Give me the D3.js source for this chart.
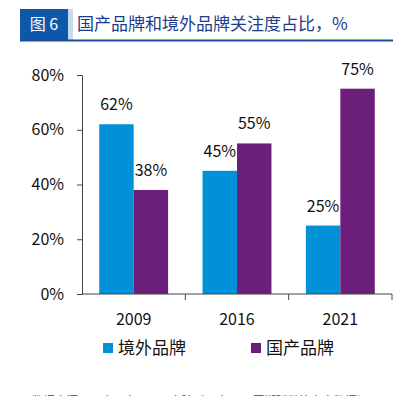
<!DOCTYPE html>
<html><head><meta charset="utf-8">
<script src="https://cdn.jsdelivr.net/npm/d3@7"></script>
<style>body{margin:0;background:#fff;}svg{display:block;font-family:"Noto Sans CJK SC","Noto Sans",sans-serif;}</style>
</head><body>
<script>
const categories = ["2009", "2016", "2021"];
const seriesNames = ["境外品牌", "国产品牌"];
const foreignBrand = [62, 45, 25];
const domesticBrand = [38, 55, 75];
const yTicks = [0, 20, 40, 60, 80];
const colors = ["#0091D9", "#6C1E7B"];
const figLabel = "图 6";
const title = "国产品牌和境外品牌关注度占比，%";
const source = "数据来源：百度，人民网研究院《百度2021国潮骄傲搜索大数据》";

const W = 395, H = 396;
const svg = d3.select("body").append("svg").attr("width", W).attr("height", H);

// header
svg.append("rect").attr("x", 20).attr("y", 9).attr("width", 48).attr("height", 31).attr("fill", "#0F57A8");
svg.append("rect").attr("x", 68).attr("y", 9).attr("width", 5).attr("height", 31).attr("fill", "#C9DBEF");
svg.append("text").attr("x", 44).attr("y", 30).attr("text-anchor", "middle").attr("fill", "#fff")
  .attr("font-size", 16).text(figLabel);
svg.append("text").attr("x", 77).attr("y", 30).attr("fill", "#1B3D8C").attr("font-size", 17).text(title);
svg.append("line").attr("x1", 20).attr("x2", 393).attr("y1", 40.5).attr("y2", 40.5)
  .attr("stroke", "#1B4C9C").attr("stroke-width", 2);

const data = categories.map((c, i) => ({cat: c, vals: [foreignBrand[i], domesticBrand[i]]}));

const x = d3.scaleBand().domain(categories).range([82, 392]).paddingInner(1/3).paddingOuter(1/6);
const xs = d3.scaleBand().domain([0, 1]).range([0, x.bandwidth()]);
const y = d3.scaleLinear().domain([0, 80]).range([294, 75]);

// bars
const g = svg.append("g");
data.forEach(d => {
  d.vals.forEach((v, j) => {
    g.append("rect").attr("x", x(d.cat) + xs(j)).attr("y", y(v))
      .attr("width", xs.bandwidth()).attr("height", y(0) - y(v)).attr("fill", colors[j]);
    g.append("text").attr("x", x(d.cat) + xs(j) + xs.bandwidth() / 2).attr("y", y(v) - 14)
      .attr("text-anchor", "middle").attr("font-size", 16).attr("fill", "#111").text(v + "%");
  });
});

// y axis
const yAxis = svg.append("g").attr("transform", "translate(82,0)")
  .call(d3.axisLeft(y).tickValues(yTicks).tickFormat(d => d + "%").tickSize(5).tickPadding(13));
yAxis.selectAll("path,line").attr("stroke", "#444");
yAxis.selectAll("text").attr("font-size", 16).attr("fill", "#111")
  .attr("font-family", '"Noto Sans CJK SC","Noto Sans",sans-serif');

// x axis
const xAxisG = svg.append("g").attr("transform", "translate(0,294)");
xAxisG.append("line").attr("x1", 82).attr("x2", 392).attr("stroke", "#444");
categories.forEach(c => {
  const edge = x(c) + x.bandwidth() + x.step() * x.paddingInner() / 2;
  xAxisG.append("line").attr("x1", edge).attr("x2", edge).attr("y1", 0).attr("y2", 6).attr("stroke", "#444");
  xAxisG.append("text").attr("x", x(c) + x.bandwidth() / 2).attr("y", 31)
    .attr("text-anchor", "middle").attr("font-size", 16).attr("fill", "#111").text(c);
});

// legend
const legendX = [103, 251];
seriesNames.forEach((n, j) => {
  svg.append("rect").attr("x", legendX[j]).attr("y", 343).attr("width", 10).attr("height", 10).attr("fill", colors[j]);
  svg.append("text").attr("x", legendX[j] + 15).attr("y", 354).attr("font-size", 17).attr("fill", "#111").text(n);
});

// source (cut off at bottom as in the reference)
svg.append("text").attr("x", 32).attr("y", 405).attr("font-size", 11.5).attr("fill", "#444").text(source);
</script>
</body></html>
